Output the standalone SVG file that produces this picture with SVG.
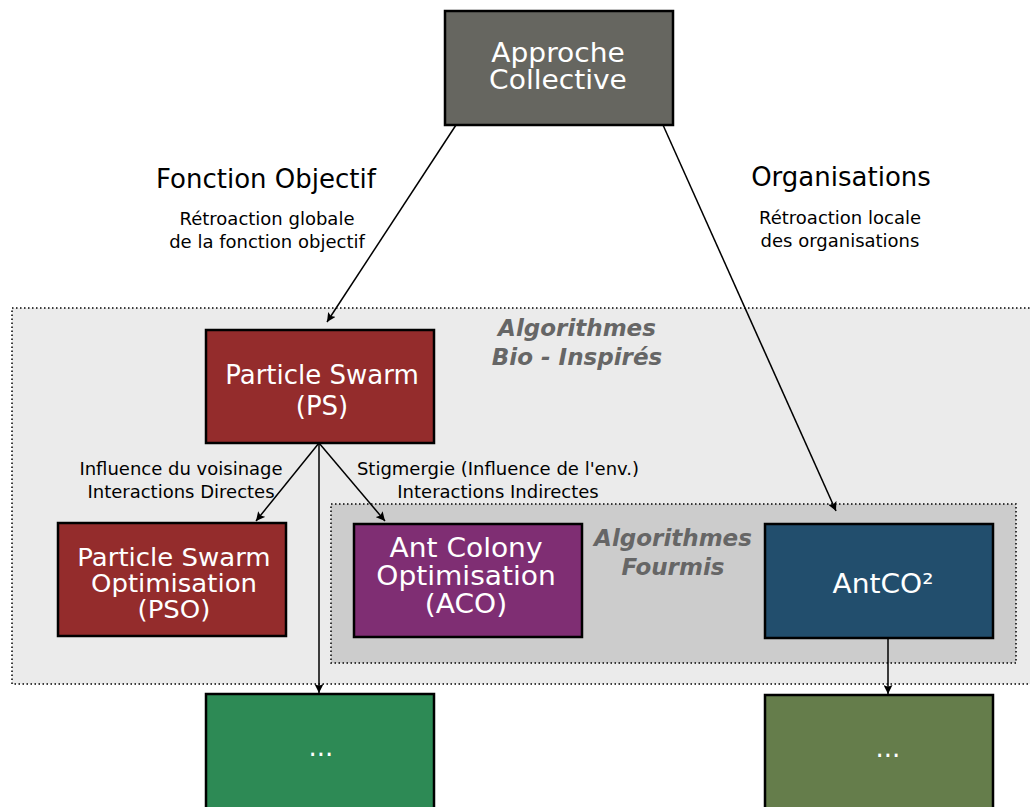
<svg xmlns="http://www.w3.org/2000/svg" width="1030" height="807" viewBox="0 0 1030 807">
  <defs>
    <marker id="arrow" viewBox="0 0 10 10" refX="10" refY="5" markerWidth="9" markerHeight="9" markerUnits="userSpaceOnUse" orient="auto">
      <path d="M0,0 L10,5 L0,10 L2,5 Z" fill="#000"/>
    </marker>
    <style>
      text { font-family: "DejaVu Sans", "Liberation Sans", sans-serif; }
      .node rect { stroke: #000; stroke-width: 2.5; }
      .node text { fill: #fff; font-size: 26px; text-anchor: middle; }
      .node text.tight { font-size: 24.5px; }
      .region { stroke: #000; stroke-width: 1.5; stroke-dasharray: 1.5 2.5; }
      .rlabel { fill: #666; font-size: 23px; font-weight: bold; font-style: italic; text-anchor: middle; }
      .head { fill: #000; font-size: 26px; text-anchor: middle; }
      .small { fill: #000; font-size: 18px; text-anchor: middle; }
      .conn line { stroke: #000; stroke-width: 1.5; marker-end: url(#arrow); }
    </style>
  </defs>
  <rect width="1030" height="807" fill="#fff"/>

  <!-- grouping regions -->
  <g id="region-bio">
    <rect class="region" x="12" y="308" width="1030" height="376" fill="#ebebeb"/>
    <text class="rlabel" x="577" y="336">Algorithmes</text>
    <text class="rlabel" x="577" y="365">Bio - Inspirés</text>
  </g>
  <g id="region-fourmis">
    <rect class="region" x="331" y="504" width="685" height="159" fill="#cccccc"/>
    <text class="rlabel" x="673" y="546">Algorithmes</text>
    <text class="rlabel" x="673" y="575">Fourmis</text>
  </g>

  <!-- branch headings -->
  <g id="labels">
    <text class="head" x="266" y="188">Fonction Objectif</text>
    <text class="small" x="267" y="225">Rétroaction globale</text>
    <text class="small" x="267" y="248">de la fonction objectif</text>
    <text class="head" x="841" y="186">Organisations</text>
    <text class="small" x="840" y="224">Rétroaction locale</text>
    <text class="small" x="840" y="247">des organisations</text>
    <text class="small" x="181" y="475">Influence du voisinage</text>
    <text class="small" x="181" y="498">Interactions Directes</text>
    <text class="small" x="498" y="475">Stigmergie (Influence de l'env.)</text>
    <text class="small" x="498" y="498">Interactions Indirectes</text>
  </g>

  <!-- connectors -->
  <g id="connectors" class="conn">
    <line x1="456" y1="125" x2="327" y2="322"/>
    <line x1="663" y1="125" x2="836" y2="511"/>
    <line x1="319" y1="443" x2="256" y2="521"/>
    <line x1="319" y1="443" x2="385" y2="521"/>
    <line x1="319" y1="443" x2="319" y2="693"/>
    <line x1="888" y1="638" x2="888" y2="694"/>
  </g>

  <!-- nodes (wider lettering is stretched horizontally) -->
  <g id="approche" class="node">
    <rect x="445" y="11" width="228" height="114" fill="#666660"/>
    <text transform="translate(558,62) scale(1.08,1)">Approche</text>
    <text transform="translate(558,89) scale(1.08,1)">Collective</text>
  </g>
  <g id="ps" class="node">
    <rect x="206" y="330" width="228" height="113" fill="#942c2c"/>
    <text x="322" y="384">Particle Swarm</text>
    <text x="322" y="415">(PS)</text>
  </g>
  <g id="pso" class="node">
    <rect x="58" y="523" width="228" height="113" fill="#942c2c"/>
    <text class="tight" transform="translate(174,566) scale(1.06,1)">Particle Swarm</text>
    <text class="tight" transform="translate(174,592) scale(1.06,1)">Optimisation</text>
    <text class="tight" transform="translate(174,618) scale(1.06,1)">(PSO)</text>
  </g>
  <g id="aco" class="node">
    <rect x="354" y="524" width="228" height="113" fill="#7f2e73"/>
    <text transform="translate(466,557) scale(1.08,1)">Ant Colony</text>
    <text transform="translate(466,585) scale(1.08,1)">Optimisation</text>
    <text transform="translate(466,613) scale(1.08,1)">(ACO)</text>
  </g>
  <g id="antco2" class="node">
    <rect x="765" y="524" width="228" height="114" fill="#224e6d"/>
    <text transform="translate(883,593) scale(1.08,1)">AntCO²</text>
  </g>
  <g id="ps-next" class="node">
    <rect x="206" y="694" width="228" height="130" fill="#2d8a55"/>
    <text x="321" y="756">...</text>
  </g>
  <g id="antco2-next" class="node">
    <rect x="765" y="695" width="228" height="130" fill="#657d4b"/>
    <text x="888" y="757">...</text>
  </g>
</svg>
